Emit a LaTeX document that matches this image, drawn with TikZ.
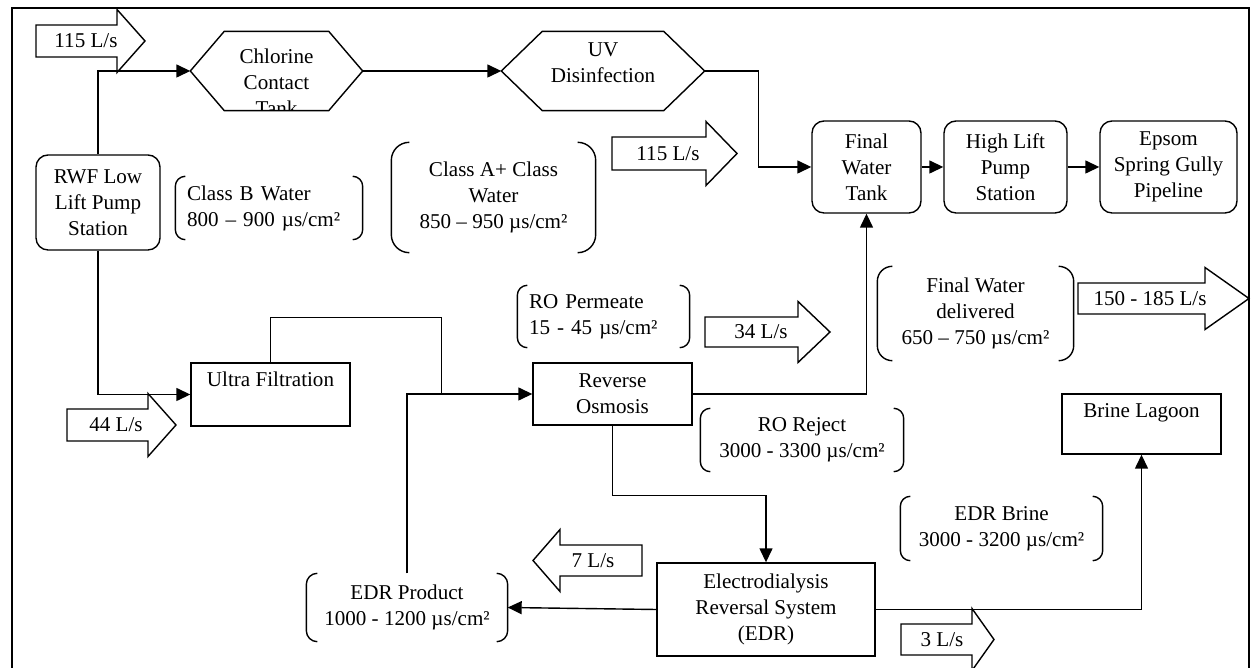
\documentclass[tikz,border=0pt]{standalone}
\usepackage{fontspec}
\setmainfont{Liberation Serif}
\usetikzlibrary{arrows.meta,calc}

% wide flow arrow: body from #1 to #2, tip at #3, body between #4 and #5
\newcommand\flowarrow[5]{%
  \draw (#2,#4) -- (#1,#4) -- (#1,#5) -- (#2,#5) -- (#2,#5-15.5)
    -- (#3,{(#4+#5)/2}) -- (#2,#4+15.5) -- cycle;}
% hexagon round node #1, slanted ends #2 wide
\newcommand\hexframe[2]{%
  \draw (#1.west) -- ($(#1.north west)+(#2,0)$) -- ($(#1.north east)+(-#2,0)$)
    -- (#1.east) -- ($(#1.south east)+(-#2,0)$) -- ($(#1.south west)+(#2,0)$) -- cycle;}
% pair of brackets round node #1, corner #2
\newcommand\bracketpair[2]{%
  \draw[rounded corners=#2] ($(#1.north west)+(#2,0)$) -- (#1.north west)
    -- (#1.south west) -- ($(#1.south west)+(#2,0)$);
  \draw[rounded corners=#2] ($(#1.north east)+(-#2,0)$) -- (#1.north east)
    -- (#1.south east) -- ($(#1.south east)+(-#2,0)$);}

\begin{document}
\begin{tikzpicture}[x=0.02cm, y=0.02cm, line width=0.8pt,
    font=\fontsize{12}{14.8}\selectfont,
    >={Triangle[length=0.28cm,width=0.26cm]},
    roundbox/.style={draw, rounded corners=0.24cm, align=center, inner sep=0pt},
    plainbox/.style={draw, align=center, inner sep=0pt},
    topbox/.style={plainbox, text height=0.48cm},
    hexbox/.style={inner sep=0pt},
    notebox/.style={align=center, inner sep=0pt},
    leftnote/.style={align=left, inner ysep=0pt, inner xsep=0.22cm},
    flowtext/.style={inner sep=0pt}]
  \clip (0,0) rectangle (1251,-668);
  \draw[line width=1.3pt] (12,-700) -- (12,-8) -- (1249,-8) -- (1249,-700);

  % treatment units
  \node[roundbox, minimum width=2.48cm, minimum height=1.9cm] (rwf) at (98,-202.5) {RWF Low\\Lift Pump\\Station};
  \node[roundbox, minimum width=2.18cm, minimum height=1.84cm] (fwt) at (866.5,-167) {Final\\Water\\Tank};
  \node[roundbox, minimum width=2.46cm, minimum height=1.84cm] (hlps) at (1005.5,-167) {High Lift\\Pump\\Station};
  \node[roundbox, minimum width=2.74cm, minimum height=1.84cm] (epsom) at (1168.5,-167) {Epsom\\Spring Gully\\Pipeline};
  \node[topbox, minimum width=3.18cm, text depth=0.78cm] (uf) at (270.5,-394.5) {Ultra Filtration};
  \node[plainbox, minimum width=3.18cm, minimum height=1.24cm] (ro) at (612.5,-394) {Reverse\\Osmosis};
  \node[plainbox, minimum width=4.36cm, minimum height=1.86cm] (edr) at (766,-609.5) {Electrodialysis\\Reversal System\\(EDR)};
  \node[topbox, minimum width=3.18cm, text depth=0.72cm] (brine) at (1141.5,-424) {Brine Lagoon};

  % disinfection
  \node[hexbox, minimum width=3.42cm, minimum height=1.56cm] (chlor) at (276.5,-71) {};
  \hexframe{chlor}{0.68cm}
  \begin{scope}
    \clip (chlor.south west) rectangle (chlor.north east);
    \node[notebox, anchor=north] (chlor-text) at ([yshift=-0.34cm]chlor.north) {Chlorine\\Contact\\Tank};
  \end{scope}
  \node[hexbox, minimum width=4.04cm, minimum height=1.56cm] (uv) at (603,-71) {};
  \hexframe{uv}{0.82cm}
  \node[notebox, anchor=north] (uv-text) at ([yshift=-0.22cm]uv.north) {UV\\Disinfection};

  % water quality notes
  \node[leftnote, text width=3.28cm, minimum height=1.24cm] (classb) at (269,-208) {Class B Water\\800 – 900 µs/cm²};
  \bracketpair{classb}{0.2cm}
  \node[notebox, minimum width=4.06cm, minimum height=2.18cm] (classa) at (493.5,-197.5) {Class A+ Class\\Water\\850 – 950 µs/cm²};
  \bracketpair{classa}{0.36cm}
  \node[leftnote, text width=2.98cm, minimum height=1.22cm] (perm) at (603.5,-316.5) {RO Permeate\\15 - 45 µs/cm²};
  \bracketpair{perm}{0.2cm}
  \node[notebox, minimum width=3.9cm, minimum height=1.86cm] (finalw) at (975.5,-313.5) {Final Water\\delivered\\650 – 750 µs/cm²};
  \bracketpair{finalw}{0.3cm}
  \node[notebox, minimum width=4.04cm, minimum height=1.24cm] (reject) at (802,-440) {RO Reject\\3000 - 3300 µs/cm²};
  \bracketpair{reject}{0.2cm}
  \node[notebox, minimum width=4.02cm, minimum height=1.26cm] (edrb) at (1001.5,-528.5) {EDR Brine\\3000 - 3200 µs/cm²};
  \bracketpair{edrb}{0.2cm}
  \node[notebox, minimum width=4cm, minimum height=1.34cm] (edrp) at (407,-607.5) {EDR Product\\1000 - 1200 µs/cm²};
  \bracketpair{edrp}{0.22cm}

  % flows
  \flowarrow{36}{117}{145}{-25}{-57}
  \node[flowtext] (q-in) at (86,-41) {115 L/s};
  \flowarrow{612}{706}{737}{-137}{-170}
  \node[flowtext] (q-disinf) at (668,-153.5) {115 L/s};
  \flowarrow{705}{798}{830}{-317}{-347}
  \node[flowtext] (q-perm) at (761,-332) {34 L/s};
  \flowarrow{1078}{1205}{1249}{-283}{-314}
  \node[flowtext] (q-out) at (1150,-298.5) {150 - 185 L/s};
  \flowarrow{67}{148}{176}{-409}{-441}
  \node[flowtext] (q-uf) at (116,-425) {44 L/s};
  \flowarrow{642}{560}{533}{-545}{-576}
  \node[flowtext] (q-prod) at (593,-560.5) {7 L/s};
  \flowarrow{901}{972}{994}{-624}{-655}
  \node[flowtext] (q-brine) at (942,-639.5) {3 L/s};

  % pipework
  \draw[->] (rwf.north) |- (chlor.west);
  \draw[->] (chlor.east) -- (uv.west);
  \draw[->] (uv.east) -- ++(54,0) |- (fwt.west);
  \draw[->] (fwt.east) -- (hlps.west);
  \draw[->] (hlps.east) -- (epsom.west);
  \draw[->] (rwf.south) |- (uf.west);
  \coordinate (mix) at ($(ro.west)+(-91,0)$);
  \draw (uf.north) -- ++(0,45) -| (mix);
  \draw[->] (edrp.north) |- (ro.west);
  \draw[->] (ro.east) -| (fwt.south);
  \draw[->] (ro.south) -- ++(0,-70) -| (edr.north);
  \draw[->] (edr.west) -- (edrp.east);
  \draw[->] (edr.east) -| (brine.south);
\end{tikzpicture}
\end{document}
